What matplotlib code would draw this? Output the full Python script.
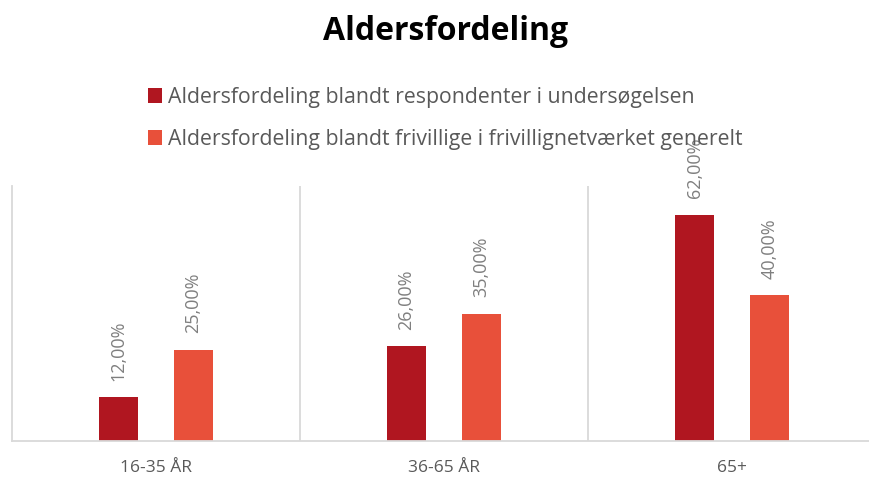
import numpy as np
import matplotlib.pyplot as plt

plt.rcParams['font.family'] = ['Open Sans', 'DejaVu Sans']

categories = ["16-35 ÅR", "36-65 ÅR", "65+"]
respondenter = [12, 26, 62]
frivillige = [25, 35, 40]
series_names = ["Aldersfordeling blandt respondenter i undersøgelsen",
                "Aldersfordeling blandt frivillige i frivillignetværket generelt"]
colors = ["#B01620", "#E8503A"]

fig = plt.figure(figsize=(8.7, 4.8), dpi=100)
ax = fig.add_axes([12/870, 39/480, 864/870, 255/480])

x = np.arange(len(categories))
w = 0.135
off = 0.13
b1 = ax.bar(x - off, respondenter, w, color=colors[0], label=series_names[0])
b2 = ax.bar(x + off, frivillige, w, color=colors[1], label=series_names[1])

for bars, vals in [(b1, respondenter), (b2, frivillige)]:
    for r, v in zip(bars, vals):
        ax.annotate(f"{v:.2f}%".replace(".", ","),
                    (r.get_x() + r.get_width() / 2, r.get_height()),
                    xytext=(0, 12), textcoords="offset points",
                    rotation=90, ha="center", va="bottom",
                    fontsize=13, color="#7f7f7f", annotation_clip=False)

ax.set_xlim(-0.5, 2.5)
ax.set_ylim(0, 70)
ax.set_yticks([])
ax.set_xticks(x)
ax.set_xticklabels(categories, fontsize=12.5, color="#595959")
ax.tick_params(axis="x", length=0, pad=14)
for xv in [0.5, 1.5]:
    ax.axvline(xv, color="#d9d9d9", lw=1.3)
for s in ["top", "right"]:
    ax.spines[s].set_visible(False)
ax.spines["left"].set_color("#d9d9d9")
ax.spines["left"].set_linewidth(1.3)
ax.spines["bottom"].set_color("#d9d9d9")
ax.spines["bottom"].set_linewidth(1.3)

fig.text(0.512, 0.935, "Aldersfordeling", ha="center", va="center",
         fontsize=23, fontweight="bold", color="black")

fig.legend(loc="upper left", bbox_to_anchor=(137/870, 1 - 76/480),
           frameon=False, fontsize=15.3, labelcolor="#595959",
           handlelength=0.7, handleheight=0.7, handletextpad=0.25,
           labelspacing=1.0, borderpad=0)

fig.savefig("out.png", dpi=100)
